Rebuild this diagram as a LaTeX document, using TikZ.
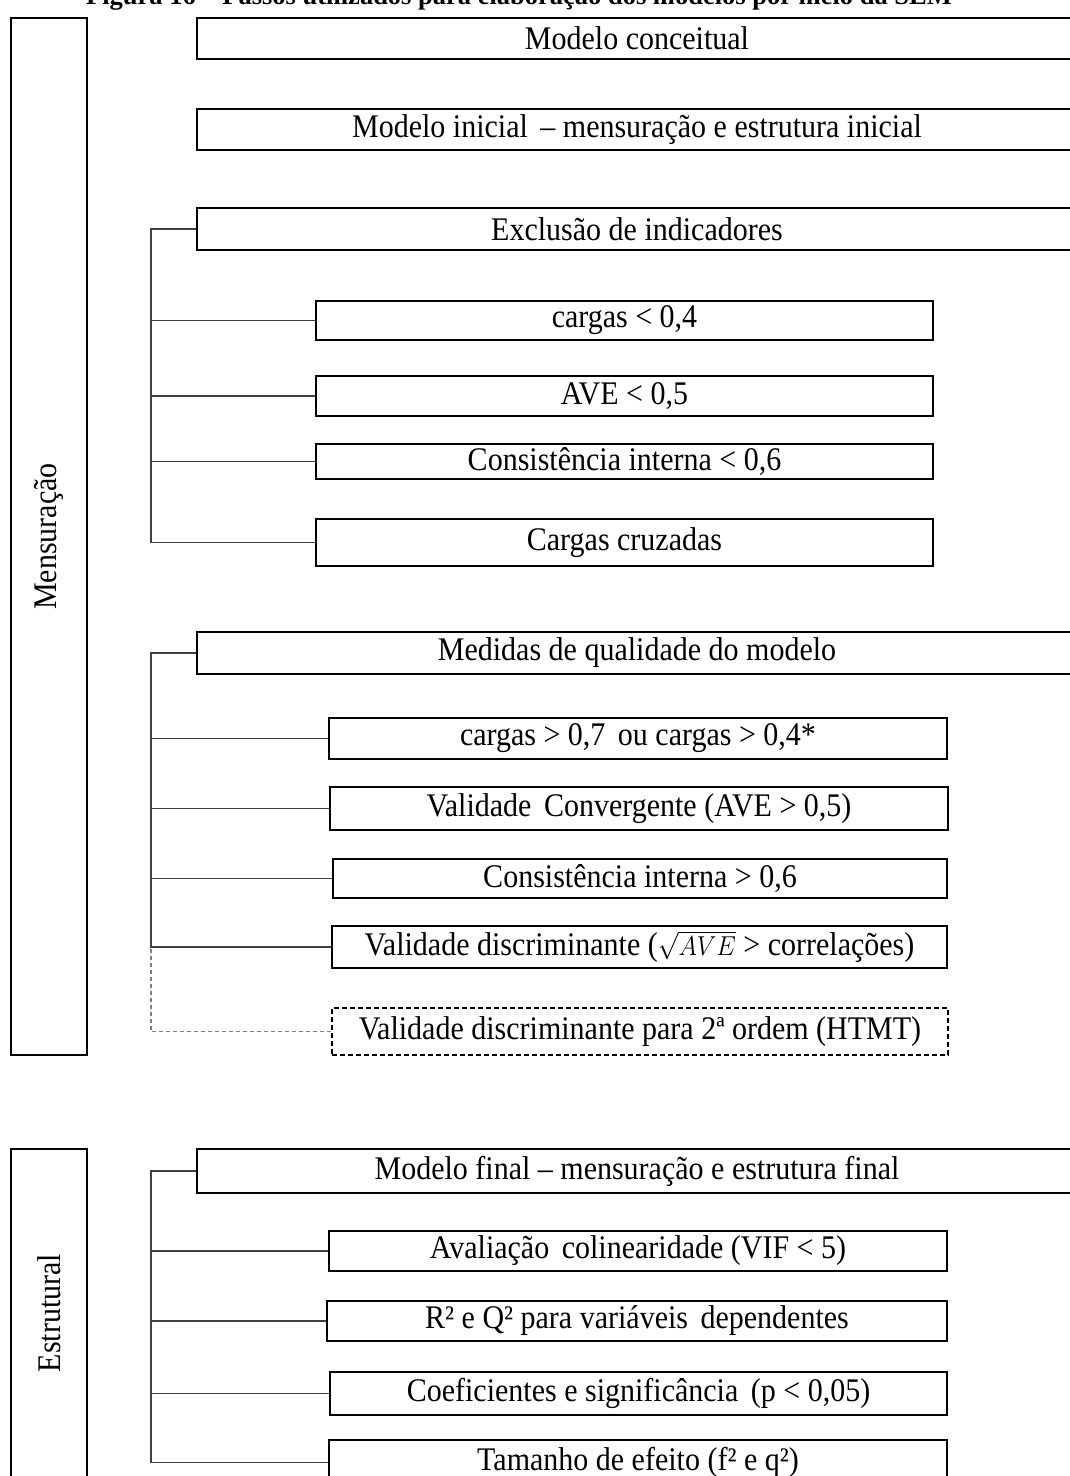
\documentclass[tikz,border=0pt]{standalone}
\usepackage{fontspec}
\setmainfont{Liberation Serif}
% slightly tall lettering used in every label
\newcommand\tallt[1]{\scalebox{1}[1.1]{#1}}
\begin{document}
\begin{tikzpicture}[x=1pt,y=-1pt,
  txt/.style={font=\fontsize{30}{34}\selectfont},
  box/.style={draw=black, line width=2pt, rectangle, anchor=north west, inner sep=0pt, txt},
  bigbox/.style={box, minimum width=885pt},
  subbox/.style={box},
  dashbox/.style={box, dashed, dash pattern=on 5pt off 3pt},
  sidebox/.style={draw=black, line width=2pt, rectangle, anchor=north west, inner sep=0pt, minimum width=76pt},
  link/.style={draw=black!75, line width=1.3pt},
  dlink/.style={draw=black!50, line width=1.3pt, dash pattern=on 4pt off 3pt}]
\useasboundingbox (0,0) rectangle (1070,1476);

% caption, only its lower part falls inside the page
\node[anchor=base, font=\bfseries\fontsize{26.5}{30}\selectfont, inner sep=0pt] (cap) at (519,4)
  {Figura 16 -- Passos utilizados para elaboração dos modelos por meio da SEM};

% side blocks
\node[sidebox, minimum height=1037pt] (mens) at (10,17) {};
\node[txt, rotate=90] (mensl) at (mens.center) {\tallt{Mensuração}};
\node[sidebox, minimum height=328pt] (estr) at (10,1148) {};
\node[txt, rotate=90] (estrl) at (estr.center) {\tallt{Estrutural}};

% main steps
\node[bigbox, minimum height=41pt] (b1) at (196,17) {};
\node[txt] (b1l) at (b1.center -| 637,0) {\tallt{Modelo conceitual}};
\node[bigbox, minimum height=41pt] (b2) at (196,108) {};
\node[txt] (b2l) at (b2.center -| 637,0) {\tallt{Modelo inicial \,-- mensuração e estrutura inicial}};
\node[bigbox, minimum height=42pt] (b3) at (196,207) {};
\node[txt] (b3l) at (b3.center -| 637,0) {\tallt{Exclusão de indicadores}};
\node[bigbox, minimum height=42pt] (b4) at (196,631) {};
\node[txt] (b4l) at (b4.center -| 637,0) {\tallt{Medidas de qualidade do modelo}};
\node[bigbox, minimum height=44pt] (b5) at (196,1148) {};
\node[txt] (b5l) at (b5.center -| 637,0) {\tallt{Modelo final -- mensuração e estrutura final}};

% exclusion criteria
\node[subbox, minimum width=617pt, minimum height=39pt] (s1) at (315,300) {};
\node[txt] (s1l) at (s1.center) {\tallt{cargas < 0,4}};
\node[subbox, minimum width=617pt, minimum height=40pt] (s2) at (315,375) {};
\node[txt] (s2l) at (s2.center) {\tallt{AVE < 0,5}};
\node[subbox, minimum width=617pt, minimum height=35pt] (s3) at (315,443) {};
\node[txt] (s3l) at (s3.center) {\tallt{Consistência interna < 0,6}};
\node[subbox, minimum width=617pt, minimum height=47pt] (s4) at (315,518) {};
\node[txt] (s4l) at (s4.center) {\tallt{Cargas cruzadas}};

% quality measures
\node[subbox, minimum width=618pt, minimum height=41pt] (t1) at (328,717) {};
\node[txt] (t1l) at (t1.center) {\tallt{cargas > 0,7 \,ou cargas > 0,4*}};
\node[subbox, minimum width=618pt, minimum height=43pt] (t2) at (329,786) {};
\node[txt] (t2l) at (t2.center) {\tallt{Validade \,Convergente (AVE > 0,5)}};
\node[subbox, minimum width=614pt, minimum height=39pt] (t3) at (332,858) {};
\node[txt] (t3l) at (t3.center) {\tallt{Consistência interna > 0,6}};
\node[subbox, minimum width=615pt, minimum height=42pt] (t4) at (331,925) {};
\node[txt] (t4l) at (t4.center) {\tallt{Validade discriminante ($\sqrt{AVE}$ > correlações)}};
\node[dashbox, minimum width=616pt, minimum height=47pt] (t5) at (331,1007) {};
\node[txt] (t5l) at (t5.center) {\tallt{Validade discriminante para 2ª ordem (HTMT)}};

% structural assessment
\node[subbox, minimum width=618pt, minimum height=40pt] (u1) at (328,1230) {};
\node[txt] (u1l) at (u1.center) {\tallt{Avaliação \,colinearidade (VIF < 5)}};
\node[subbox, minimum width=620pt, minimum height=40pt] (u2) at (326,1300) {};
\node[txt] (u2l) at (u2.center) {\tallt{R² e Q² para variáveis \,dependentes}};
\node[subbox, minimum width=617pt, minimum height=43pt] (u3) at (329,1371) {};
\node[txt] (u3l) at (u3.center) {\tallt{Coeficientes e significância \,(p < 0,05)}};
\node[subbox, minimum width=618pt, minimum height=45pt] (u4) at (328,1439) {};
\node[txt] (u4l) at (u4.center) {\tallt{Tamanho de efeito (f² e q²)}};

% trunk lines
\coordinate (k) at (151,0);
\draw[link] (b3.west) -- (k |- b3.west) |- (s4.west);
\foreach \n in {s1,s2,s3} \draw[link] (\n.west) -- (k |- \n.west);

\draw[dlink] (k |- t3.west) |- (t5.west);
\draw[link] (b4.west) -- (k |- b4.west) |- (t4.west);
\foreach \n in {t1,t2,t3} \draw[link] (\n.west) -- (k |- \n.west);

\draw[link] (b5.west) -- (k |- b5.west) |- (u4.west);
\foreach \n in {u1,u2,u3} \draw[link] (\n.west) -- (k |- \n.west);
\end{tikzpicture}
\end{document}
